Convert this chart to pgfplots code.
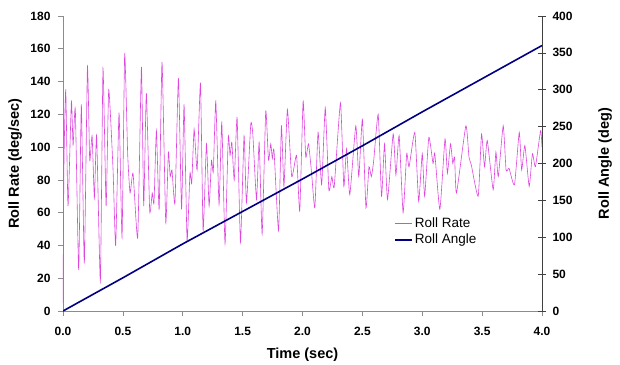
\documentclass[border=0pt]{standalone}
\usepackage{fontspec}
\setmainfont{Liberation Sans}
\usepackage{pgfplots}
\pgfplotsset{compat=1.18}
\definecolor{rr}{RGB}{222,70,222}
\definecolor{ra}{RGB}{0,0,128}
\definecolor{axgray}{RGB}{140,140,140}
\newcommand{\tkf}{\bfseries\fontsize{12}{14}\selectfont}

\begin{document}
\begin{tikzpicture}
\pgfplotsset{
  common/.style={
    scale only axis, width=479pt, height=295pt,
    xmin=0, xmax=4,
    /pgf/number format/assume math mode=true,
  }
}
\begin{axis}[
  common, name=ax1,
  ymin=0, ymax=180,
  axis y line*=left, axis x line*=bottom,
  axis line style={draw=axgray, -},
  xtick={0,0.5,1,1.5,2,2.5,3,3.5,4},
  ytick={0,20,40,60,80,100,120,140,160,180},
  xticklabel={{\tkf\pgfmathprintnumber[fixed,fixed zerofill,precision=1,assume math mode=true]{\tick}}},
  yticklabel={{\tkf\pgfmathprintnumber[assume math mode=true]{\tick}}},
  xticklabel style={yshift=-8pt},
  yticklabel style={xshift=-4pt},
  tick style={axgray, line width=0.6pt},
  tick align=outside, major tick length=5pt,
  xlabel={Time (sec)}, ylabel={Roll Rate (deg/sec)},
  every axis x label/.style={at={(axis description cs:0.5,-0.149)}, anchor=center,
    font=\bfseries\fontsize{14.5}{16}\selectfont},
  every axis y label/.style={at={(axis description cs:-0.1,0.5)}, rotate=90, anchor=center,
    font=\bfseries\fontsize{14.5}{16}\selectfont},
]
\addplot[rr, line width=0.6pt, smooth, tension=0.3] table {
t v
0.000 5
0.008 90
0.023 135
0.042 64
0.070 128
0.084 101
0.103 123
0.131 25
0.153 126
0.178 29
0.204 149
0.223 92
0.243 107
0.262 69
0.281 107
0.312 18
0.334 148
0.360 64
0.382 135
0.418 86
0.440 40
0.468 121
0.493 45
0.515 157
0.540 96
0.560 72
0.585 84
0.624 45
0.655 149
0.674 64
0.696 133
0.724 61
0.745 72
0.760 66
0.780 110
0.803 62
0.827 152
0.858 54
0.880 97
0.895 82
0.910 86
0.935 66
0.964 142
0.990 62
1.011 126
1.036 43
1.060 84
1.075 78
1.095 111
1.120 86
1.148 139
1.170 49
1.198 102
1.220 64
1.240 92
1.255 85
1.276 128
1.303 65
1.326 115
1.353 41
1.380 106
1.395 95
1.410 103
1.430 80
1.454 118
1.482 42
1.512 107
1.532 66
1.568 114
1.585 108
1.616 68
1.638 103
1.663 47
1.693 122
1.716 92
1.735 102
1.748 93
1.762 98
1.800 49
1.824 113
1.845 76
1.874 123
1.910 82
1.950 95
1.977 61
2.005 128
2.027 94
2.050 102
2.075 85
2.103 63
2.130 109
2.160 77
2.190 124
2.220 74
2.245 82
2.265 76
2.317 127
2.345 76
2.368 99
2.395 71
2.445 113
2.470 82
2.500 117
2.530 63
2.555 88
2.575 82
2.595 92
2.632 120
2.660 70
2.685 102
2.710 68
2.757 108
2.780 83
2.807 107
2.840 60
2.870 96
2.890 88
2.938 109
2.970 67
3.000 96
3.020 70
3.055 106
3.090 90
3.105 96
3.147 62
3.190 105
3.210 84
3.236 102
3.255 90
3.270 94
3.286 72
3.364 113
3.390 94
3.410 89
3.467 70
3.495 108
3.520 88
3.543 104
3.592 74
3.615 97
3.635 82
3.676 113
3.700 86
3.725 87
3.770 77
3.810 109
3.830 86
3.857 101
3.893 76
3.920 96
3.945 88
3.988 110
4.000 100
};
\end{axis}
\begin{axis}[
  common,
  ymin=0, ymax=400,
  axis y line*=right, axis x line=none,
  axis line style={draw=black!75, -},
  ytick={0,50,100,150,200,250,300,350,400},
  yticklabel={{\tkf\pgfmathprintnumber[assume math mode=true]{\tick}}},
  yticklabel style={xshift=3pt},
  tick style={black!75, line width=0.6pt},
  tick align=center, major tick length=8pt,
  ylabel={Roll Angle (deg)},
  every axis y label/.style={at={(axis description cs:1.132,0.5)}, rotate=90, anchor=center,
    font=\bfseries\fontsize{14.5}{16}\selectfont},
  legend style={at={(0.685,0.33)}, anchor=north west, draw=none, fill=none,
    font=\fontsize{13.5}{15}\selectfont, row sep=1pt},
  legend cell align=left,
]
\addlegendimage{rr, line width=0.6pt}
\addlegendentry{Roll Rate}
\addplot[ra, line width=1.6pt] table {
t a
0.0 0
0.5 45
1.0 91
1.5 135
2.0 179
2.5 224
3.0 270
3.5 315
4.0 360
};
\addlegendentry{Roll Angle}
\end{axis}
\pgfresetboundingbox
\path (ax1.south west) ++(-63pt,-53pt) rectangle ++(620pt,364pt);
\end{tikzpicture}
\end{document}
